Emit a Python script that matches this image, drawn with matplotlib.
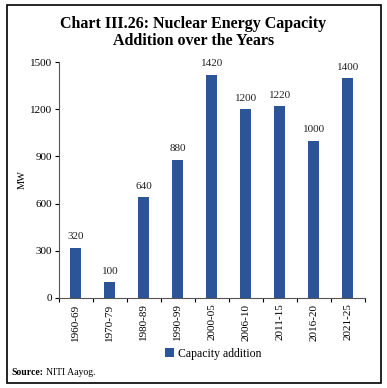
import matplotlib.pyplot as plt
from matplotlib.patches import Rectangle

years = ["1960-69", "1970-79", "1980-89", "1990-99", "2000-05",
         "2006-10", "2011-15", "2016-20", "2021-25"]
capacity = [320, 100, 640, 880, 1420, 1200, 1220, 1000, 1400]
yticks = [0, 300, 600, 900, 1200, 1500]

bar_color = "#2b5597"
plt.rcParams['font.family'] = ['Liberation Serif', 'DejaVu Serif']

fig = plt.figure(figsize=(3.87, 3.88), dpi=100)
ax = fig.add_axes([0.152, 0.232, 0.791, 0.608])

x = range(len(years))
bars = ax.bar(x, capacity, width=0.32, color=bar_color, label="Capacity addition")
for xi, v in zip(x, capacity):
    ax.text(xi, v + 40, str(v), ha="center", va="bottom", fontsize=8, color="#222222")

ax.set_xlim(-0.5, len(years) - 0.5)
ax.set_ylim(0, 1500)
ax.set_yticks(yticks)
ax.set_yticklabels([str(t) for t in yticks], fontsize=8)
ax.set_ylabel("MW", fontsize=7.5, labelpad=2)

ax.set_xticks([i + 0.5 for i in range(-1, len(years))], minor=False)
ax.set_xticklabels([])
ax.set_xticks(list(x), minor=True)
ax.set_xticklabels(years, minor=True, rotation=90, fontsize=8)
ax.tick_params(axis="x", which="minor", length=0, pad=4)
ax.tick_params(axis="x", which="major", length=3, direction="out")
ax.tick_params(axis="y", length=3, direction="out", pad=2)

for s in ["top", "right"]:
    ax.spines[s].set_visible(False)
ax.spines["left"].set_color("#555555")
ax.spines["bottom"].set_color("#555555")

fig.legend(handles=[bars], labels=["Capacity addition"], loc="center",
           bbox_to_anchor=(0.55, 0.088), frameon=False, fontsize=8.5,
           handlelength=0.8, handleheight=0.8, handletextpad=0.3)

fig.text(0.5, 0.917, "Chart III.26: Nuclear Energy Capacity\nAddition over the Years",
         ha="center", va="center", fontsize=11.5, fontweight="bold",
         linespacing=1.05)

fig.text(0.03, 0.04, "Source:", fontsize=7, fontweight="bold", va="center")
fig.text(0.118, 0.04, "NITI Aayog.", fontsize=7, va="center")

fig.patches.append(Rectangle((0.018, 0.013), 0.967, 0.975, transform=fig.transFigure,
                             fill=False, edgecolor="black", linewidth=1.2))

fig.savefig("out.png", dpi=100)
